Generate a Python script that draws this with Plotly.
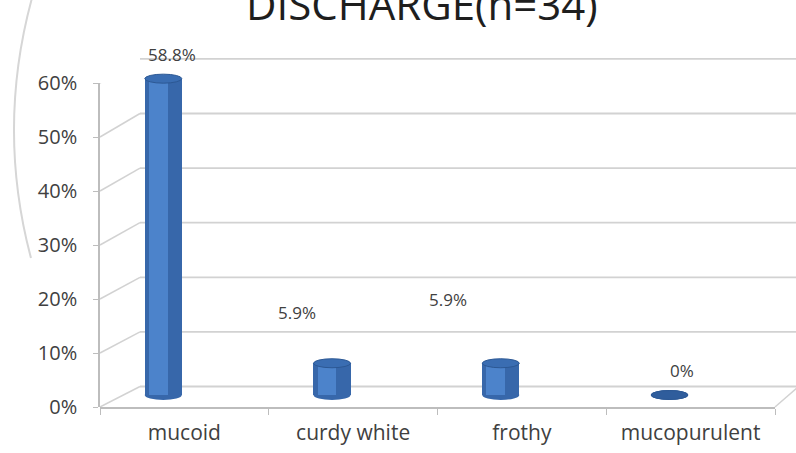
import plotly.graph_objects as go

# ---- data ----
categories = ["mucoid", "curdy white", "frothy", "mucopurulent"]
values = [0.588, 0.059, 0.059, 0.0]
value_labels = ["58.8%", "5.9%", "5.9%", "0%"]
y_tick_vals = [0, 0.1, 0.2, 0.3, 0.4, 0.5, 0.6]
y_tick_text = ["0%", "10%", "20%", "30%", "40%", "50%", "60%"]
title_text = "DISCHARGE(n=34)"

# ---- layout helpers (pixels -> paper) ----
W, H = 796, 453
def px(x):
    return x / W
def py(y):
    return 1 - y / H

FONT = "Open Sans"
TXT = "#404040"
GRID = "#D2D2D2"
AXIS = "#BDBDBD"

# label offsets in pixels (xshift, yshift) relative to bar tops
label_shift = [(-12, 24), (-56, 51), (-74, 64), (-9, 25)]

BAR_SHIFT = -0.125   # bars sit a little left of category centre
BAR_W = 0.22
HI_W = 0.11

fig = go.Figure()
# cylinder body
fig.add_trace(go.Bar(
    x=categories, y=values, width=BAR_W, offset=BAR_SHIFT - BAR_W / 2,
    marker=dict(color="#3767AA", line=dict(width=0)),
    hoverinfo="skip", xaxis="x", yaxis="y"))
# highlight strip
fig.add_trace(go.Bar(
    x=categories, y=values, width=HI_W, offset=BAR_SHIFT - 0.085,
    marker=dict(color="#4C83CB", line=dict(width=0)),
    hoverinfo="skip", xaxis="x", yaxis="y"))
# carrier for the front value axis
fig.add_trace(go.Scatter(
    x=categories, y=values, mode="markers", marker=dict(opacity=0),
    hoverinfo="skip", xaxis="x", yaxis="y2"))

shapes = []
# back wall grid lines
for k, v in enumerate(y_tick_vals):
    lift = 8.5 + 0.8 * k
    shapes.append(dict(type="line", xref="paper", x0=px(140), x1=1.0,
                       yref="y", ysizemode="pixel", yanchor=v, y0=lift, y1=lift,
                       line=dict(color=GRID, width=1.8), layer="below"))
    rise = 20.5 + 0.6 * k
    shapes.append(dict(type="line", xref="paper", x0=px(100), x1=px(140),
                       yref="y2", ysizemode="pixel", yanchor=v, y0=0, y1=rise,
                       line=dict(color=GRID, width=1.5), layer="below"))
# right floor edge
shapes.append(dict(type="line", xref="paper", yref="paper",
                   x0=px(775), y0=py(407), x1=px(797), y1=py(388),
                   line=dict(color=GRID, width=1.5), layer="below"))
# decorative arc on the left
arc = "M {:.4f},{:.4f} Q {:.4f},{:.4f} {:.4f},{:.4f}".format(
    px(32), py(-2), px(-3.5), py(128), px(31), py(258))
shapes.append(dict(type="path", xref="paper", yref="paper", path=arc,
                   line=dict(color="#D6D6D6", width=2), layer="below"))

# cylinder caps
for i, v in enumerate(values):
    xc = i + BAR_SHIFT
    # bottom rounding
    shapes.append(dict(type="circle", xref="x", yref="y",
                       xsizemode="pixel", ysizemode="pixel",
                       xanchor=xc, yanchor=0, x0=-18.5, x1=18.5, y0=-5, y1=5,
                       fillcolor="#3767AA", line=dict(width=0), layer="below"))
    # top ellipse
    shapes.append(dict(type="circle", xref="x", yref="y",
                       xsizemode="pixel", ysizemode="pixel",
                       xanchor=xc, yanchor=v, x0=-18.5, x1=18.5, y0=-4.5, y1=4.5,
                       fillcolor="#3A6DB2" if v > 0 else "#2F5D9C",
                       line=dict(color="#2C5894", width=1)))

annotations = []
for i, (c, v, t) in enumerate(zip(categories, values, value_labels)):
    annotations.append(dict(x=c, y=v, xref="x", yref="y", text=t,
                            showarrow=False, xshift=label_shift[i][0],
                            yshift=label_shift[i][1],
                            font=dict(family=FONT, size=17, color=TXT)))
annotations.append(dict(x=px(422), y=py(34), xref="paper", yref="paper",
                        text=title_text, showarrow=False, yanchor="bottom",
                        font=dict(family=FONT, size=42, color="#1E1E1E")))

fig.update_layout(
    width=W, height=H,
    margin=dict(l=0, r=0, t=0, b=0, pad=0, autoexpand=False),
    paper_bgcolor="white", plot_bgcolor="rgba(0,0,0,0)",
    showlegend=False, barmode="overlay", bargap=0,
    xaxis=dict(domain=[px(100), px(775)], type="category", range=[-0.5, 3.5],
               anchor="y", showline=True, linecolor=AXIS, linewidth=1.5,
               ticks="outside", tickson="boundaries", ticklen=6, tickcolor=AXIS,
               showgrid=False, zeroline=False, ticklabelstandoff=6,
               automargin=False,
               tickfont=dict(family=FONT, size=21, color=TXT)),
    yaxis=dict(domain=[py(407), py(20)], range=[-12 / 538, 375 / 538],
               anchor="x", showgrid=False, zeroline=False, showline=False,
               showticklabels=False, ticks="", automargin=False),
    yaxis2=dict(domain=[py(407), py(83)], range=[0, 0.6], anchor="x",
                side="left", showline=True, linecolor=AXIS, linewidth=1.5,
                ticks="outside", ticklen=5, tickcolor=AXIS,
                tickvals=y_tick_vals, ticktext=y_tick_text,
                showgrid=False, zeroline=False, ticklabelstandoff=12,
                automargin=False,
                tickfont=dict(family=FONT, size=20, color=TXT)),
    shapes=shapes, annotations=annotations,
)

fig.write_html("out.html")
